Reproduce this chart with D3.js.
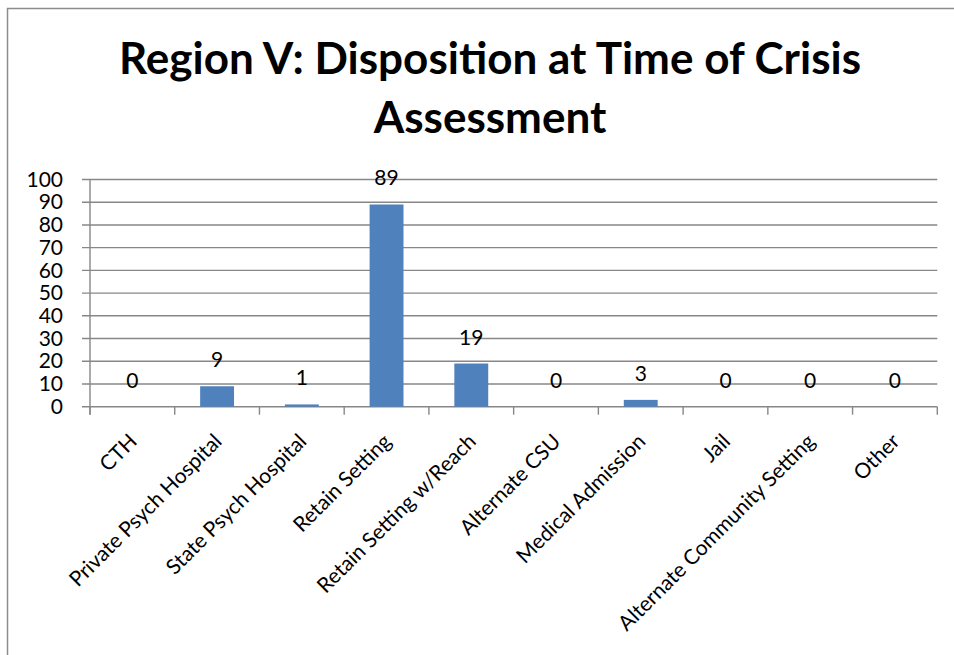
<!DOCTYPE html>
<html>
<head>
<meta charset="utf-8">
<script src="https://cdn.jsdelivr.net/npm/d3@7"></script>
<style>
  body { margin: 0; background: #fff; }
  text { font-family: Lato, "Open Sans", sans-serif; fill: #000; }
</style>
</head>
<body>
<svg id="chart" width="954" height="655"></svg>
<script>
const categories = [
  'CTH', 'Private Psych Hospital', 'State Psych Hospital', 'Retain Setting',
  'Retain Setting w/Reach', 'Alternate CSU', 'Medical Admission', 'Jail',
  'Alternate Community Setting', 'Other'
];
const counts = [0, 9, 1, 89, 19, 0, 3, 0, 0, 0];
const yTicks = [0, 10, 20, 30, 40, 50, 60, 70, 80, 90, 100];
const titleLines = ['Region V: Disposition at Time of Crisis', 'Assessment'];

const svg = d3.select('#chart');
const plot = { left: 90, right: 937.3, top: 179.5, bottom: 406.7 };
const gridColor = '#878787';

// chart frame (right and bottom edges fall outside the picture)
svg.append('rect')
  .attr('x', 7.5).attr('y', 8.5)
  .attr('width', 1000).attr('height', 1000)
  .attr('fill', 'none').attr('stroke', '#8c8c8c').attr('stroke-width', 1.5);

// title
svg.append('g').selectAll('text').data(titleLines).join('text')
  .attr('x', 490)
  .attr('y', (d, i) => 74 + i * 59)
  .attr('text-anchor', 'middle')
  .style('font-weight', 'bold')
  .style('font-size', '44px')
  .text((d) => d);

const x = d3.scaleBand()
  .domain(categories)
  .range([plot.left, plot.right])
  .paddingInner(0.6)
  .paddingOuter(0.3);

const y = d3.scaleLinear().domain([0, 100]).range([plot.bottom, plot.top]);

// gridlines + left tick marks
svg.append('g').selectAll('line').data(yTicks).join('line')
  .attr('x1', plot.left - 8).attr('x2', plot.right)
  .attr('y1', (d) => y(d)).attr('y2', (d) => y(d))
  .attr('stroke', gridColor).attr('stroke-width', 1.4);

const yAxis = svg.append('g')
  .attr('transform', `translate(${plot.left},0)`)
  .call(d3.axisLeft(y).tickValues(yTicks).tickSize(0).tickPadding(27));
yAxis.select('.domain').remove();
yAxis.selectAll('text').style('font-size', '21px').attr('font-family', null);

// vertical axis line
svg.append('line')
  .attr('x1', plot.left).attr('x2', plot.left)
  .attr('y1', plot.top).attr('y2', plot.bottom + 8)
  .attr('stroke', gridColor).attr('stroke-width', 1.4);

// category boundary ticks
const bounds = d3.range(categories.length + 1).map((i) => plot.left + i * x.step());
svg.append('g').selectAll('line').data(bounds).join('line')
  .attr('x1', (d) => d).attr('x2', (d) => d)
  .attr('y1', plot.bottom).attr('y2', plot.bottom + 8)
  .attr('stroke', gridColor).attr('stroke-width', 1.4);

// bars
svg.append('g').selectAll('rect').data(counts).join('rect')
  .attr('x', (d, i) => x(categories[i]))
  .attr('y', (d) => y(d))
  .attr('width', x.bandwidth())
  .attr('height', (d) => plot.bottom - y(d))
  .attr('fill', '#4f81bd');

// value labels
svg.append('g').selectAll('text').data(counts).join('text')
  .attr('x', (d, i) => x(categories[i]) + x.bandwidth() / 2)
  .attr('y', (d) => y(d) - 19)
  .attr('text-anchor', 'middle')
  .style('font-size', '21px')
  .text((d) => d);

// rotated category labels
svg.append('g').selectAll('text').data(categories).join('text')
  .attr('transform', (d) => `translate(${x(d) + x.bandwidth() / 2 + 6},${plot.bottom + 36}) rotate(-45)`)
  .attr('text-anchor', 'end')
  .style('font-size', '21px')
  .text((d) => d);
</script>
</body>
</html>
